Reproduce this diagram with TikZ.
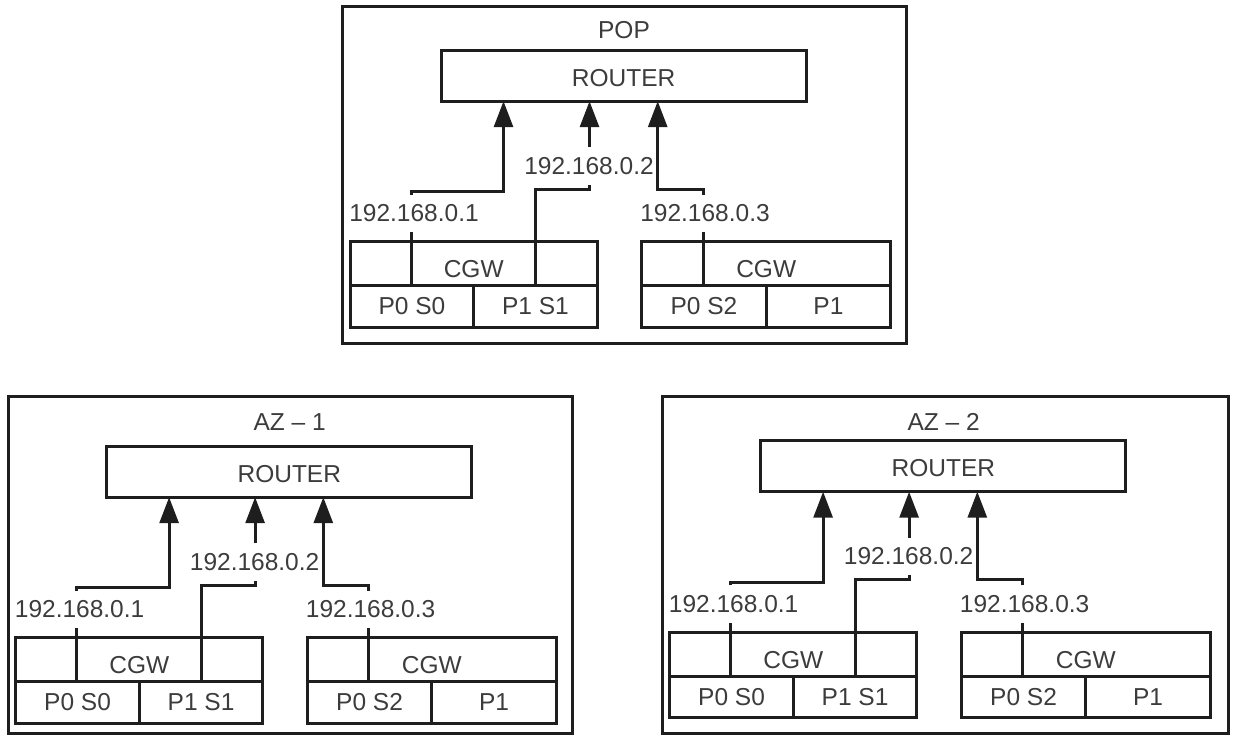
\documentclass[tikz,border=0pt]{standalone}
\usepackage{fontspec}
\setmainfont{Liberation Sans}
\usetikzlibrary{arrows.meta}
\definecolor{linec}{HTML}{1E1E1E}
\definecolor{textc}{HTML}{3C3C3C}
\tikzset{
  txt/.style={font=\fontsize{12.25pt}{14pt}\selectfont, text=textc, inner sep=0pt},
  panelbox/.style={draw=linec, line width=1.5pt, inner sep=0pt, outer sep=0pt, minimum height=168.75pt},
  routerbox/.style={txt, draw=linec, line width=1.5pt, outer sep=0pt, minimum width=182.5pt, minimum height=25.5pt, text height=10.3pt, text depth=0pt},
  cellbox/.style={txt, draw=linec, line width=1.5pt, outer sep=0pt},
  ipnode/.style={txt, minimum height=18.3pt},
  wire/.style={draw=linec, line width=1.5pt},
  arr/.style={-{Triangle[length=13pt,width=9.5pt]}}
}
% #1 prefix, #2 ox, #3 oy, #4 title, #5 inner dy, #6 width, #7 title dy
\newcommand\netpanel[7]{%
\begin{scope}[shift={(#2,#3)}]
  \node[panelbox, minimum width=#6*0.5pt, anchor=north west] (#1panel) at (0,0) {};
  \node[txt] (#1title) at (281.3,24.5+#7) {#4};
  \begin{scope}[shift={(0,#5)}]
    \node[routerbox] (#1router) at (281,69.7) {ROUTER};
    % CGW A
    \node[cellbox, minimum width=123.5pt, minimum height=22pt, text height=13.8pt, text depth=0pt] (#1cgwA) at (131,257.7) {CGW};
    \node[cellbox, minimum width=61.75pt, minimum height=20.8pt] (#1cgwAp0) at (69.25,300.5) {P0 S0};
    \node[cellbox, minimum width=61.75pt, minimum height=20.8pt] (#1cgwAp1) at (192.75,300.5) {P1 S1};
    % CGW B
    \node[cellbox, minimum width=124.5pt, minimum height=22pt, text height=13.8pt, text depth=0pt] (#1cgwB) at (423.5,257.7) {CGW};
    \node[cellbox, minimum width=62.25pt, minimum height=20.8pt] (#1cgwBp0) at (361.25,300.5) {P0 S2};
    \node[cellbox, minimum width=62.25pt, minimum height=20.8pt] (#1cgwBp1) at (485.75,300.5) {P1};
    % labels
    \node[ipnode] (#1l1) at (71.3,207.5) {192.168.0.1};
    \node[ipnode] (#1l2) at (246.3,160) {192.168.0.2};
    \node[ipnode] (#1l3) at (362.3,207.5) {192.168.0.3};
    % coordinates
    \coordinate (#1s1) at (68.3,279.7);
    \coordinate (#1b1) at (160.8,185.7);
    \coordinate (#1s2) at (193,279.7);
    \coordinate (#1b2) at (246.8,183.3);
    \coordinate (#1s3) at (360.6,279.7);
    \coordinate (#1b3) at (315,183.3);
    % connectors
    \draw[wire] (#1s1) -- (#1s1 |- #1l1.south);
    \draw[wire,arr] (#1s1 |- #1l1.north) |- (#1b1) -- (#1b1 |- #1router.south);
    \draw[wire] (#1s2) |- (#1b2) -- (#1b2 |- #1l2.south);
    \draw[wire,arr] (#1b2 |- #1l2.north) -- (#1b2 |- #1router.south);
    \draw[wire] (#1s3) -- (#1s3 |- #1l3.south);
    \draw[wire,arr] (#1s3 |- #1l3.north) |- (#1b3) -- (#1b3 |- #1router.south);
  \end{scope}
\end{scope}}
\begin{document}
\begin{tikzpicture}[x=0.5pt,y=-0.5pt]
\useasboundingbox (0,0) rectangle (1240,740);
\netpanel{pop}{342.7}{6}{POP}{0}{563.3}{0}
\netpanel{aza}{8.3}{396}{AZ -- 1}{6}{564}{2}
\netpanel{azb}{662.3}{396}{AZ -- 2}{0.5}{566}{1}
\end{tikzpicture}
\end{document}
